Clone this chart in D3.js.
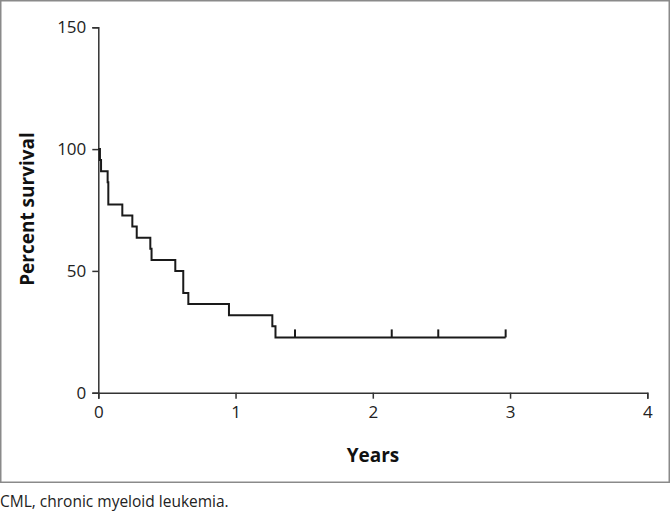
<!DOCTYPE html>
<html><head><meta charset="utf-8">
<script src="https://cdn.jsdelivr.net/npm/d3@7"></script>
<style>body{margin:0;background:#fff;} svg{display:block;}</style>
</head><body>
<script>
// Kaplan-Meier step data (years, percent survival)
const eventTimes = [0, 0.012, 0.02, 0.068, 0.073, 0.175, 0.248, 0.28, 0.379, 0.388, 0.561, 0.619, 0.656, 0.952, 1.268, 1.291, 2.968];
const survival   = [100, 95.5, 90.9, 86.4, 77.3, 72.7, 68.2, 63.6, 59.1, 54.5, 50, 40.9, 36.4, 31.8, 27.3, 22.7, 22.7];
const censorTimes = [1.433, 2.138, 2.477, 2.968];
const censorValues = [22.7, 22.7, 22.7, 22.7];
const xTicks = [0, 1, 2, 3, 4];
const yTicks = [0, 50, 100, 150];
const xTitle = "Years";
const yTitle = "Percent survival";
const caption = "CML, chronic myeloid leukemia.";

const W = 670, H = 512;
const svg = d3.select("body").append("svg").attr("width", W).attr("height", H);
const font = "Open Sans, Noto Sans, sans-serif";

// border
svg.append("rect").attr("x", 0.75).attr("y", 0.75).attr("width", 668.5).attr("height", 481.5)
  .attr("fill", "none").attr("stroke", "#8a8a8a").attr("stroke-width", 1.5);

const x = d3.scaleLinear().domain([0, 4]).range([98.3, 647.3]);
const y = d3.scaleLinear().domain([0, 150]).range([392.7, 27.3]);

const axisColor = "#333";
const gx = svg.append("g").attr("transform", `translate(0,${y(0)})`)
  .call(d3.axisBottom(x).tickValues(xTicks).tickFormat(d3.format("d")).tickSizeOuter(0).tickSize(6).tickPadding(7));
const gy = svg.append("g").attr("transform", `translate(${x(0)},0)`)
  .call(d3.axisLeft(y).tickValues(yTicks).tickFormat(d3.format("d")).tickSizeOuter(0).tickSize(6).tickPadding(6));
[gx, gy].forEach(g => {
  g.select(".domain").attr("stroke", axisColor).attr("stroke-width", 1.5);
  g.selectAll(".tick line").attr("stroke", axisColor).attr("stroke-width", 1.5);
  g.selectAll(".tick text").attr("font-family", font).attr("font-size", 17).attr("fill", "#222");
});

// KM curve
const pts = eventTimes.map((t, i) => [t, survival[i]]);
const line = d3.line().x(d => x(d[0])).y(d => y(d[1])).curve(d3.curveStepAfter);
svg.append("path").attr("d", line(pts)).attr("fill", "none")
  .attr("stroke", "#1a1a1a").attr("stroke-width", 2);

// censor ticks
svg.selectAll(".censor").data(censorTimes).join("line")
  .attr("x1", d => x(d)).attr("x2", d => x(d))
  .attr("y1", (d, i) => y(censorValues[i])).attr("y2", (d, i) => y(censorValues[i]) - 8)
  .attr("stroke", "#1a1a1a").attr("stroke-width", 2);

// titles
svg.append("text").attr("x", 373).attr("y", 462).attr("text-anchor", "middle")
  .attr("font-family", font).attr("font-weight", "bold").attr("font-size", 19).attr("fill", "#111").text(xTitle);
svg.append("text").attr("transform", `translate(34,209) rotate(-90)`).attr("text-anchor", "middle")
  .attr("font-family", font).attr("font-weight", "bold").attr("font-size", 19).attr("fill", "#111").text(yTitle);

svg.append("text").attr("x", 0).attr("y", 507).attr("font-family", font).attr("font-size", 15.5)
  .attr("fill", "#222").text(caption);
</script>
</body></html>
